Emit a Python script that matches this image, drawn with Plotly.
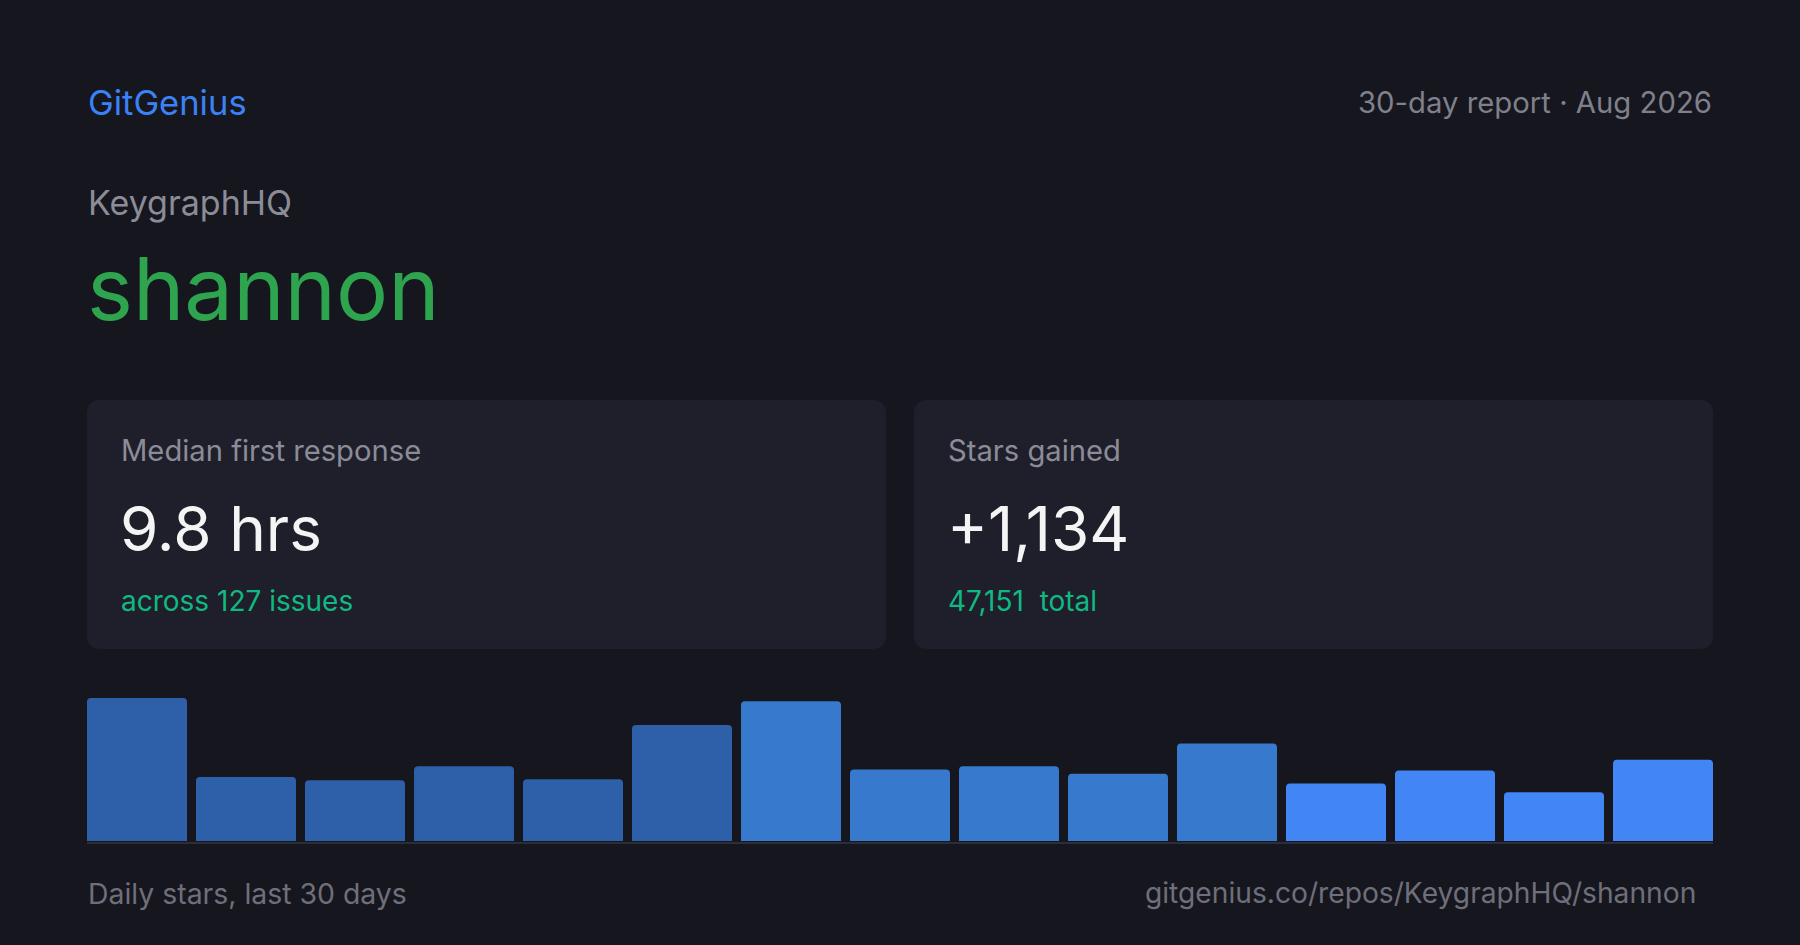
import plotly.graph_objects as go

# report data
owner = "KeygraphHQ"
repo = "shannon"
brand = "GitGenius"
period_label = "30-day report · Aug 2026"

card_labels = ["Median first response", "Stars gained"]
card_values = ["9.8 hrs", "+1,134"]
card_subs = ["across 127 issues", "47,151\u00a0 total"]

# stars per bucket (15 buckets over the last 30 days)
buckets = list(range(1, 16))
stars = [132, 59, 56, 69, 57, 107, 129, 66, 69, 62, 90, 53, 65, 45, 75]
bar_colors = ["#2e5fa9"] * 6 + ["#3779cc"] * 5 + ["#4285f4"] * 4

footer_left = "Daily stars, last 30 days"
footer_right = "gitgenius.co/repos/KeygraphHQ/shannon"

W, H = 1800, 945
BG = "#16161f"
CARD = "#1f1f2b"
FONT = "Inter"


def px(x):
    return x / W


def py(y):
    return 1 - y / H


def rounded_rect(x0, y0, x1, y1, r):
    rx, ry = r / W, r / H
    a0, b0, a1, b1 = px(x0), py(y1), px(x1), py(y0)
    return (
        f"M{a0 + rx},{b0} L{a1 - rx},{b0} Q{a1},{b0} {a1},{b0 + ry} "
        f"L{a1},{b1 - ry} Q{a1},{b1} {a1 - rx},{b1} "
        f"L{a0 + rx},{b1} Q{a0},{b1} {a0},{b1 - ry} "
        f"L{a0},{b0 + ry} Q{a0},{b0} {a0 + rx},{b0} Z"
    )


def label(text, x, y, size, color, anchor="left"):
    return dict(
        text=text, x=px(x), y=py(y), xref="paper", yref="paper",
        xanchor=anchor, yanchor="middle", showarrow=False,
        font=dict(family=FONT, size=size, color=color),
    )


fig = go.Figure()

fig.add_trace(
    go.Bar(
        x=buckets,
        y=stars,
        marker=dict(color=bar_colors, line=dict(width=0), cornerradius=4),
        hoverinfo="skip",
    )
)

# cards
cards = [(87, 400, 886, 649), (914, 400, 1713, 649)]
shapes = [
    dict(type="path", path=rounded_rect(*c, 14), xref="paper", yref="paper",
         fillcolor=CARD, line=dict(width=0), layer="below")
    for c in cards
]
# baseline under the bars
shapes.append(dict(type="line", xref="paper", yref="paper",
                   x0=px(87), x1=px(1713), y0=py(843), y1=py(843),
                   line=dict(color="#2c2d3a", width=2)))

annotations = [
    label(brand, 86, 102, 34.5, "#3b82f6"),
    label(period_label, 1714, 102, 29.3, "#7f808b", "right"),
    label(owner, 86, 203, 34, "#8b8c97"),
    label(repo, 85, 289, 87, "#2ea44f"),
    label(footer_left, 86, 893, 28.4, "#6e6f7a"),
    label(footer_right, 1698, 893, 28.2, "#6e6f7a", "right"),
]
for (x0, y0, x1, y1), lab, val, sub in zip(cards, card_labels, card_values, card_subs):
    annotations.append(label(lab, x0 + 32, 450, 29.2, "#8b8c97"))
    annotations.append(label(val, x0 + 31, 528, 62, "#f4f4f5"))
    annotations.append(label(sub, x0 + 32, 601, 28, "#10b981"))

fig.update_layout(
    width=W,
    height=H,
    margin=dict(l=0, r=0, t=0, b=0),
    paper_bgcolor=BG,
    plot_bgcolor=BG,
    showlegend=False,
    bargap=0.0826,
    shapes=shapes,
    annotations=annotations,
    xaxis=dict(domain=[px(82.5), px(1717.5)], range=[0.5, 15.5], visible=False, fixedrange=True),
    yaxis=dict(domain=[py(841), py(698)], range=[0, 132], visible=False, fixedrange=True),
)

# drop the default page margin so the card fills the window
fig.write_html(
    "out.html",
    config={"displayModeBar": False},
    post_script="document.body.style.margin='0';document.body.style.background='" + BG + "';",
)
